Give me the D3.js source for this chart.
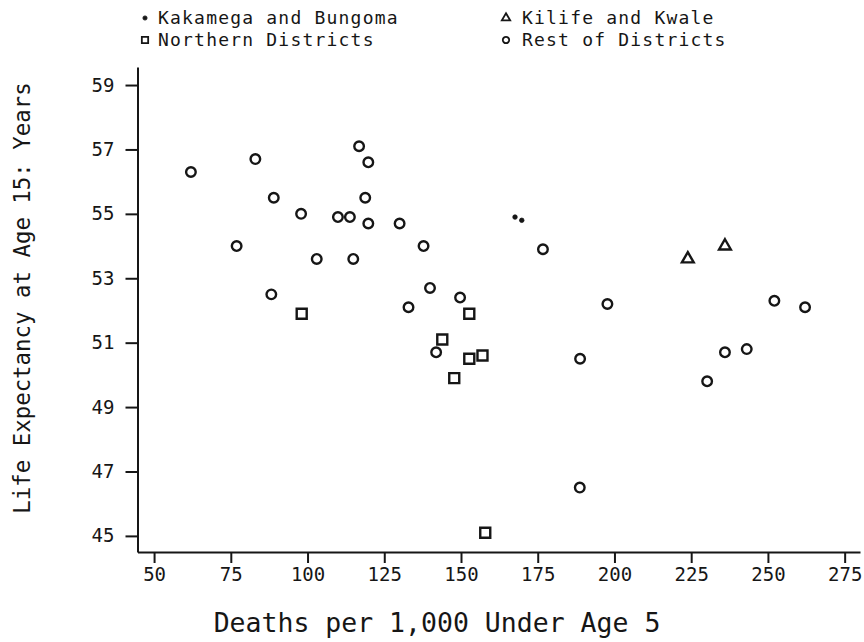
<!DOCTYPE html>
<html>
<head>
<meta charset="utf-8">
<script src="https://cdn.jsdelivr.net/npm/d3@7"></script>
<style>
  html, body { margin: 0; padding: 0; background: #fff; }
  svg { display: block; }
  text { font-family: "DejaVu Sans Mono", "Liberation Mono", monospace; fill: #161616; }
</style>
</head>
<body>
<svg id="chart" width="864" height="642"></svg>
<script>
// Under-five mortality (deaths per 1,000) against life expectancy at age 15, by district group
const kakamegaX = [167.6, 169.8];
const kakamegaY = [54.9, 54.8];

const kilifeX = [223.9, 236.0];
const kilifeY = [53.6, 54.0];

const northernX = [98.1, 152.7, 143.9, 152.7, 157.0, 147.8, 157.9];
const northernY = [51.9, 51.9, 51.1, 50.5, 50.6, 49.9, 45.1];

const restX = [62.0, 83.0, 116.8, 119.8, 89.0, 118.8, 97.9, 109.9, 113.8, 119.8,
               130.0, 76.9, 137.8, 103.0, 114.9, 176.7, 88.2, 139.9, 132.9, 149.7,
               197.7, 252.1, 262.1, 141.9, 188.8, 236.0, 243.1, 230.2, 188.7];
const restY = [56.3, 56.7, 57.1, 56.6, 55.5, 55.5, 55.0, 54.9, 54.9, 54.7,
               54.7, 54.0, 54.0, 53.6, 53.6, 53.9, 52.5, 52.7, 52.1, 52.4,
               52.2, 52.3, 52.1, 50.7, 50.5, 50.7, 50.8, 49.8, 46.5];

const xTicks = [50, 75, 100, 125, 150, 175, 200, 225, 250, 275];
const yTicks = [45, 47, 49, 51, 53, 55, 57, 59];

const legendLabels = ["Kakamega and Bungoma", "Northern Districts", "Kilife and Kwale", "Rest of Districts"];

const ink = "#161616";
const svg = d3.select("#chart");

const x = d3.scaleLinear().domain([44.6, 280]).range([137.5, 860]);
const y = d3.scaleLinear().domain([44.5, 59.56]).range([552, 67]);

// Axes
const gx = svg.append("g")
  .attr("transform", `translate(0,${y.range()[0]})`)
  .call(d3.axisBottom(x).tickValues(xTicks).tickSize(11).tickSizeOuter(0).tickPadding(5));
const gy = svg.append("g")
  .attr("transform", `translate(${x.range()[0]},0)`)
  .call(d3.axisLeft(y).tickValues(yTicks).tickSize(12).tickSizeOuter(0).tickPadding(11));

[gx, gy].forEach(g => {
  g.select(".domain").attr("stroke", ink).attr("stroke-width", 2);
  g.selectAll(".tick line").attr("stroke", ink).attr("stroke-width", 2);
  g.selectAll(".tick text").attr("font-size", 19).attr("fill", ink)
    .attr("font-family", "DejaVu Sans Mono, monospace");
});

// Axis titles
svg.append("text")
  .attr("x", 437).attr("y", 632)
  .attr("text-anchor", "middle")
  .attr("font-size", 26.5)
  .text("Deaths per 1,000 Under Age 5");

svg.append("text")
  .attr("transform", "translate(30,298) rotate(-90)")
  .attr("text-anchor", "middle")
  .attr("font-size", 22.4)
  .text("Life Expectancy at Age 15: Years");

// Markers
const plot = svg.append("g");
const symbolPath = (type, size) => d3.symbol().type(type).size(size)();

function drawSeries(xs, ys, type, size, filled, sw) {
  plot.selectAll(null)
    .data(xs.map((v, i) => [v, ys[i]]))
    .join("path")
    .attr("d", symbolPath(type, size))
    .attr("transform", d => `translate(${x(d[0])},${y(d[1])})`)
    .attr("fill", filled ? ink : "white")
    .attr("stroke", ink)
    .attr("stroke-width", sw);
}

drawSeries(restX, restY, d3.symbolCircle, 72, false, 2.4);
drawSeries(northernX, northernY, d3.symbolSquare, 100, false, 2.4);
drawSeries(kilifeX, kilifeY, d3.symbolTriangle, 60, false, 2.4);
drawSeries(kakamegaX, kakamegaY, d3.symbolCircle, 16, true, 0.8);

// Legend
const legendItems = [
  { label: legendLabels[0], type: d3.symbolCircle, size: 14, filled: true, mx: 145, tx: 158, ty: 24 },
  { label: legendLabels[1], type: d3.symbolSquare, size: 40, filled: false, mx: 145, tx: 158, ty: 46 },
  { label: legendLabels[2], type: d3.symbolTriangle, size: 30, filled: false, mx: 506, tx: 522, ty: 24 },
  { label: legendLabels[3], type: d3.symbolCircle, size: 32, filled: false, mx: 506, tx: 522, ty: 46 }
];
const lg = svg.append("g");
legendItems.forEach(it => {
  lg.append("path")
    .attr("d", symbolPath(it.type, it.size))
    .attr("transform", `translate(${it.mx},${it.ty - 6})`)
    .attr("fill", it.filled ? ink : "white")
    .attr("stroke", ink)
    .attr("stroke-width", it.filled ? 0.8 : 1.8);
  lg.append("text")
    .attr("x", it.tx).attr("y", it.ty)
    .attr("font-size", 18)
    .attr("letter-spacing", 1.2)
    .text(it.label);
});
</script>
</body>
</html>
